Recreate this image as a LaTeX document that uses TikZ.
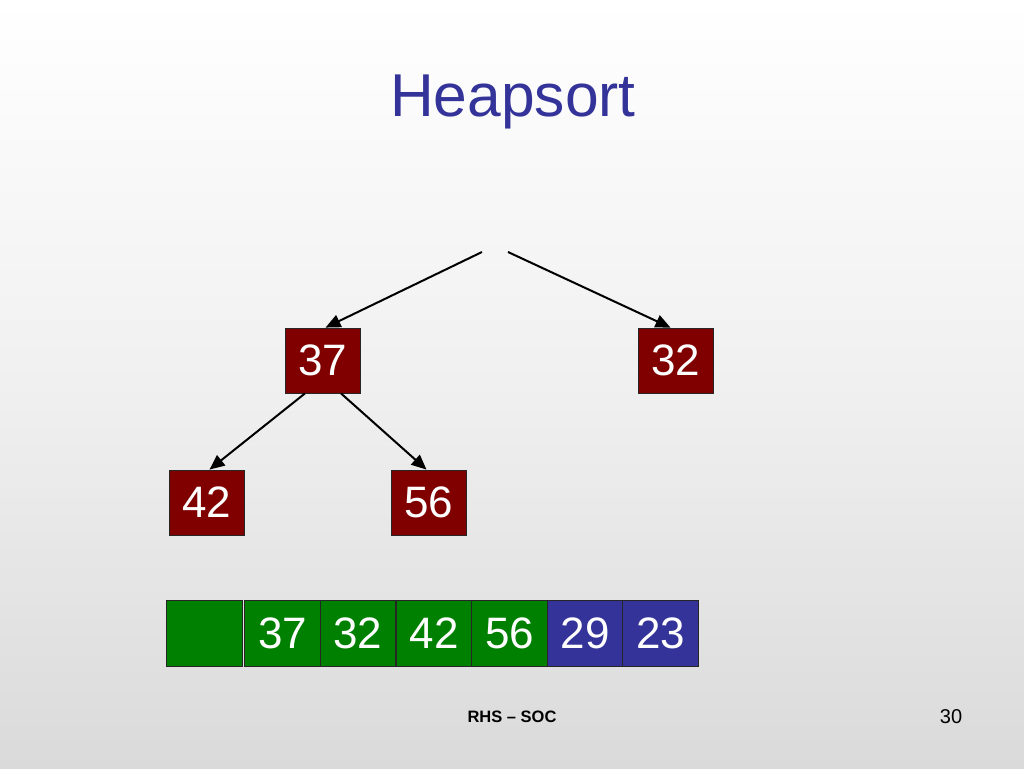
\documentclass[tikz,border=0pt]{standalone}
\usepackage{fontspec}
\setmainfont{Liberation Sans}
\usetikzlibrary{arrows.meta,calc}
\definecolor{bgbot}{RGB}{218,218,218}
\definecolor{bgmid}{RGB}{240,240,240}
\definecolor{heapred}{RGB}{128,0,0}
\definecolor{arrgreen}{RGB}{0,128,0}
\definecolor{arrblue}{RGB}{51,51,153}
\definecolor{titleblue}{RGB}{51,51,153}
\tikzset{
  heapbox/.style={draw=black!85, line width=0.8pt, fill=heapred, text=white,
    minimum width=75pt, minimum height=65pt, inner sep=0pt,
    font=\fontsize{44}{44}\selectfont},
  cellbox/.style={draw=black!85, line width=0.8pt, text=white,
    minimum width=75.5pt, minimum height=66pt, inner sep=0pt,
    font=\fontsize{44}{44}\selectfont},
  greencell/.style={cellbox, fill=arrgreen},
  bluecell/.style={cellbox, fill=arrblue},
  treearrow/.style={line width=2pt, -{Triangle[length=15pt,width=13pt]}}
}
\begin{document}
\begin{tikzpicture}[x=1pt,y=-1pt]
\shade[top color=white, bottom color=bgbot, middle color=bgmid] (0,0) rectangle (1024,768);
\useasboundingbox (0,0) rectangle (1024,768);
\node[anchor=base, text=titleblue, font=\fontsize{60.5}{60.5}\selectfont] (title) at (513,116) {Heapsort};
\coordinate (topL) at (482,252);
\coordinate (topR) at (508,252);
\node[heapbox] (n37) at (322.5,360.5) {37};
\node[heapbox] (n32) at (675.5,360.5) {32};
\node[heapbox] (n42) at (206.5,502.5) {42};
\node[heapbox] (n56) at (428.5,502.5) {56};
\draw[treearrow] (topL) -- ($(n37.north)+(3,0)$);
\draw[treearrow] (topR) -- ($(n32.north)+(-5,0)$);
\draw[treearrow] ($(n37.south)+(-17.5,0)$) -- ($(n42.north)+(3,0)$);
\draw[treearrow] ($(n37.south)+(18.5,0)$) -- ($(n56.north)+(-2,0)$);
\node[greencell, minimum width=76pt] (c0) at (204,633) {};
\node[greencell] (c1) at (282.5,633) {37};
\node[greencell] (c2) at (358,633) {32};
\node[greencell] (c3) at (434,633) {42};
\node[greencell] (c4) at (509.5,633) {56};
\node[bluecell] (c5) at (585,633) {29};
\node[bluecell] (c6) at (660.5,633) {23};
\node[font=\bfseries\fontsize{16.5}{16.5}\selectfont] (foot) at (512,717) {RHS – SOC};
\node[font=\fontsize{20}{20}\selectfont] (page) at (951,717) {30};
\end{tikzpicture}
\end{document}
